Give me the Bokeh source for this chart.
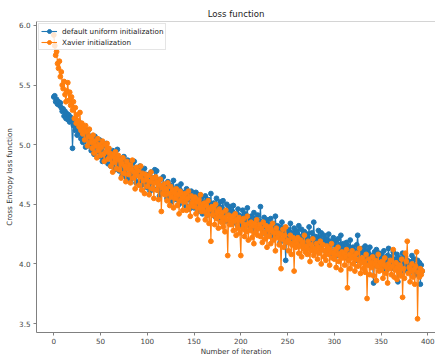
from bokeh.plotting import figure
from bokeh.models import Range1d, Legend, LegendItem, Span, NumeralTickFormatter, FixedTicker
from bokeh.embed import file_html
from bokeh.resources import INLINE

# ---- data ----
default_uniform = [
    5.40, 5.41, 5.36, 5.38, 5.34, 5.36, 5.33, 5.35, 5.31, 5.28,
    5.30, 5.24, 5.28, 5.22, 5.26, 5.21, 5.25, 5.19, 5.23, 5.20,
    4.97, 5.16, 5.21, 5.12, 5.18, 5.08, 5.14, 5.19, 5.10, 5.05,
    5.11, 5.02, 5.13, 5.06, 4.98, 5.09, 5.04, 5.12, 4.99, 5.07,
    4.95, 5.05, 5.00, 4.92, 5.07, 4.98, 5.03, 4.94, 4.99, 5.04,
    4.90, 4.97, 4.86, 4.99, 4.93, 4.88, 5.01, 4.91, 4.84, 4.96,
    4.93, 4.82, 4.89, 4.95, 4.85, 4.79, 4.91, 4.87, 4.96, 4.83,
    4.78, 4.88, 4.84, 4.74, 4.86, 4.90, 4.79, 4.83, 4.72, 4.87,
    4.81, 4.75, 4.70, 4.84, 4.79, 4.73, 4.86, 4.77, 4.68, 4.80,
    4.76, 4.69, 4.82, 4.72, 4.66, 4.78, 4.73, 4.80, 4.67, 4.75,
    4.64, 4.74, 4.70, 4.61, 4.77, 4.68, 4.72, 4.63, 4.79, 4.69,
    4.78, 4.62, 4.68, 4.57, 4.71, 4.65, 4.60, 4.73, 4.66, 4.59,
    4.64, 4.55, 4.69, 4.61, 4.58, 4.66, 4.52, 4.63, 4.70, 4.57,
    4.61, 4.54, 4.65, 4.58, 4.50, 4.62, 4.67, 4.55, 4.60, 4.53,
    4.58, 4.49, 4.63, 4.54, 4.59, 4.46, 4.56, 4.61, 4.51, 4.57,
    4.47, 4.55, 4.60, 4.50, 4.44, 4.58, 4.53, 4.48, 4.56, 4.42,
    4.52, 4.45, 4.57, 4.48, 4.41, 4.54, 4.50, 4.44, 4.59, 4.46,
    4.43, 4.51, 4.40, 4.49, 4.55, 4.45, 4.38, 4.48, 4.52, 4.42,
    4.47, 4.53, 4.39, 4.44, 4.36, 4.50, 4.42, 4.46, 4.35, 4.48,
    4.37, 4.44, 4.49, 4.35, 4.42, 4.39, 4.33, 4.46, 4.41, 4.36,
    4.40, 4.32, 4.45, 4.38, 4.30, 4.42, 4.36, 4.47, 4.34, 4.39,
    4.31, 4.40, 4.36, 4.28, 4.43, 4.34, 4.38, 4.29, 4.41, 4.33,
    4.36, 4.48, 4.30, 4.34, 4.26, 4.39, 4.31, 4.35, 4.27, 4.37,
    4.33, 4.25, 4.38, 4.29, 4.34, 4.23, 4.31, 4.40, 4.28, 4.32,
    4.24, 4.31, 4.18, 4.28, 4.35, 4.26, 4.30, 4.22, 4.03, 4.25,
    4.29, 4.21, 4.27, 4.34, 4.23, 4.26, 4.19, 4.30, 4.24, 4.28,
    4.26, 4.18, 4.32, 4.23, 4.20, 4.29, 4.16, 4.24, 4.27, 4.21,
    4.17, 4.25, 4.22, 4.31, 4.19, 4.14, 4.26, 4.21, 4.35, 4.18,
    4.23, 4.15, 4.20, 4.28, 4.16, 4.22, 4.26, 4.12, 4.19, 4.24,
    4.18, 4.11, 4.21, 4.16, 4.25, 4.13, 4.19, 4.09, 4.17, 4.22,
    4.10, 4.19, 4.15, 4.07, 4.21, 4.12, 4.16, 4.24, 4.11, 4.14,
    4.17, 4.08, 4.13, 4.18, 4.05, 4.15, 4.10, 4.20, 4.09, 4.12,
    4.14, 4.06, 4.11, 4.03, 4.16, 4.24, 4.08, 4.12, 4.04, 4.10,
    4.13, 4.02, 4.09, 4.15, 4.06, 4.11, 4.00, 4.08, 4.14, 4.04,
    4.07, 3.99, 3.84, 4.10, 4.04, 4.12, 3.98, 4.06, 4.09, 4.02,
    4.08, 3.97, 4.05, 4.11, 4.00, 4.04, 3.95, 4.07, 4.13, 4.01,
    3.98, 4.06, 4.03, 4.10, 3.96, 4.04, 3.99, 4.08, 3.85, 4.02,
    4.05, 3.97, 4.02, 4.09, 3.94, 4.01, 4.06, 3.98, 4.03, 3.95,
    4.02, 3.93, 4.00, 4.07, 3.96, 3.99, 4.04, 3.91, 3.98, 4.03,
    3.96, 4.01, 3.83, 3.99, 3.94,
]

xavier = [
    5.92, 5.83, 5.75, 5.78, 5.68, 5.64, 5.70, 5.57, 5.61, 5.50,
    5.47, 5.53, 5.42, 5.36, 5.45, 5.52, 5.37, 5.44, 5.33, 5.40,
    5.29, 5.36, 5.22, 5.31, 5.18, 5.25, 5.20, 5.15, 5.27, 5.12,
    5.18, 5.09, 5.14, 5.04, 5.16, 5.11, 4.99, 5.07, 5.13, 5.02,
    5.06, 4.97, 5.08, 4.93, 5.03, 4.99, 4.89, 5.05, 4.95, 5.00,
    4.91, 4.98, 5.03, 4.92, 4.86, 5.00, 4.94, 5.01, 4.88, 4.97,
    4.93, 4.82, 4.90, 4.77, 4.92, 4.85, 4.94, 4.80, 4.88, 4.91,
    4.79, 4.87, 4.72, 4.84, 4.89, 4.76, 4.82, 4.69, 4.86, 4.80,
    4.75, 4.83, 4.68, 4.79, 4.87, 4.72, 4.77, 4.63, 4.81, 4.74,
    4.78, 4.66, 4.73, 4.82, 4.62, 4.76, 4.70, 4.59, 4.75, 4.71,
    4.65, 4.74, 4.58, 4.69, 4.77, 4.63, 4.72, 4.55, 4.68, 4.73,
    4.62, 4.69, 4.54, 4.66, 4.71, 4.44, 4.64, 4.59, 4.67, 4.58,
    4.63, 4.53, 4.68, 4.59, 4.49, 4.65, 4.56, 4.62, 4.47, 4.60,
    4.55, 4.63, 4.49, 4.58, 4.42, 4.61, 4.53, 4.59, 4.45, 4.56,
    4.52, 4.59, 4.45, 4.55, 4.61, 4.48, 4.40, 4.57, 4.51, 4.54,
    4.48, 4.56, 4.42, 4.52, 4.37, 4.54, 4.47, 4.58, 4.44, 4.50,
    4.44, 4.51, 4.37, 4.49, 4.41, 4.53, 4.34, 4.46, 4.19, 4.48,
    4.41, 4.47, 4.33, 4.50, 4.38, 4.44, 4.30, 4.46, 4.40, 4.35,
    4.43, 4.31, 4.39, 4.27, 4.45, 4.37, 4.07, 4.41, 4.33, 4.38,
    4.33, 4.40, 4.28, 4.36, 4.42, 4.24, 4.37, 4.30, 4.39, 4.26,
    4.07, 4.36, 4.29, 4.38, 4.23, 4.33, 4.27, 4.40, 4.20, 4.34,
    4.28, 4.35, 4.22, 4.32, 4.17, 4.34, 4.26, 4.37, 4.24, 4.30,
    4.33, 4.23, 4.30, 4.18, 4.35, 4.26, 4.21, 4.32, 4.14, 4.29,
    4.23, 4.31, 4.17, 4.28, 4.34, 4.20, 4.26, 4.11, 4.30, 4.22,
    4.26, 4.16, 4.25, 3.96, 4.21, 4.29, 4.14, 4.24, 4.31, 4.18,
    4.20, 4.11, 4.18, 4.24, 4.08, 4.16, 4.22, 3.94, 4.19, 4.14,
    4.17, 4.22, 4.09, 4.15, 4.20, 4.06, 4.18, 4.13, 4.24, 4.10,
    4.15, 4.08, 4.19, 4.12, 4.02, 4.16, 4.11, 4.21, 4.07, 4.13,
    4.10, 4.17, 4.04, 4.14, 4.09, 4.19, 4.00, 4.12, 4.16, 4.06,
    4.11, 4.03, 4.15, 4.08, 4.13, 3.99, 4.10, 4.17, 4.05, 4.09,
    4.04, 4.12, 3.97, 4.08, 4.14, 4.02, 4.07, 3.95, 4.10, 4.05,
    4.09, 3.99, 4.06, 4.12, 3.80, 4.03, 4.08, 3.96, 4.05, 4.11,
    4.00, 4.07, 3.94, 4.04, 4.09, 3.98, 4.03, 4.13, 3.92, 4.01,
    4.05, 3.96, 4.02, 3.93, 4.08, 3.71, 3.99, 4.04, 3.91, 4.01,
    3.97, 4.06, 3.90, 4.00, 4.03, 3.86, 3.98, 4.08, 3.94, 4.01,
    3.95, 4.02, 3.88, 3.99, 4.05, 3.92, 3.97, 3.84, 4.00, 3.96,
    4.03, 3.91, 3.98, 4.12, 3.89, 3.95, 4.01, 3.87, 3.97, 3.93,
    3.99, 3.90, 4.04, 3.72, 3.96, 3.88, 4.09, 4.02, 4.19, 3.92,
    3.97, 3.85, 3.94, 4.00, 3.89, 3.95, 3.83, 3.98, 4.10, 3.54,
    3.93, 3.89, 3.96, 3.91, 3.94,
]

iterations = list(range(len(default_uniform)))
x_ticks = [0, 50, 100, 150, 200, 250, 300, 350, 400]
y_ticks = [3.5, 4.0, 4.5, 5.0, 5.5, 6.0]

BLUE = "#1f77b4"
ORANGE = "#ff7f0e"
FONT = "DejaVu Sans"

p = figure(width=435, height=358, output_backend="svg", toolbar_location=None,
           x_range=Range1d(-18.5, 408.2), y_range=Range1d(3.425, 6.033),
           min_border_left=36, min_border_right=0, min_border_top=21, min_border_bottom=24)

p.outline_line_color = None
p.xgrid.grid_line_color = None
p.ygrid.grid_line_color = None
p.background_fill_color = "white"
p.border_fill_color = "white"

# title
p.title.text = "Loss function"
p.title.align = "center"
p.title.text_font = FONT
p.title.text_font_size = "8.6px"
p.title.text_font_style = "normal"
p.title.text_color = "#222222"
p.title.standoff = 6

# axes
for ax in (p.xaxis[0], p.yaxis[0]):
    ax.axis_line_color = "#808080"
    ax.axis_line_width = 1
    ax.major_tick_line_color = "#808080"
    ax.major_tick_out = 3
    ax.major_tick_in = 0
    ax.minor_tick_out = 0
    ax.minor_tick_in = 0
    ax.major_label_text_font = FONT
    ax.major_label_text_font_size = "7.2px"
    ax.major_label_text_color = "#444444"
    ax.axis_label_text_font = FONT
    ax.axis_label_text_font_size = "7.2px"
    ax.axis_label_text_font_style = "normal"
    ax.axis_label_text_color = "#333333"

p.xaxis.major_label_standoff = 2
p.xaxis.axis_label_standoff = 0
p.yaxis.major_label_standoff = 3
p.yaxis.axis_label_standoff = 2

p.xaxis.ticker = FixedTicker(ticks=x_ticks)
p.yaxis.ticker = FixedTicker(ticks=y_ticks)
p.yaxis.formatter = NumeralTickFormatter(format="0.0")
p.xaxis.axis_label = "Number of iteration"
p.yaxis.axis_label = "Cross Entropy loss function"

# top spine
p.add_layout(Span(location=p.y_range.end, dimension="width", line_color="#aaaaaa", line_width=1))

# series
l1 = p.line(iterations, default_uniform, line_color=BLUE, line_width=1.1)
s1 = p.scatter(iterations, default_uniform, size=4.8, fill_color=BLUE, line_color=BLUE)
l2 = p.line(iterations, xavier, line_color=ORANGE, line_width=1.1)
s2 = p.scatter(iterations, xavier, size=4.8, fill_color=ORANGE, line_color=ORANGE)

legend = Legend(items=[
    LegendItem(label="default uniform initialization", renderers=[l1, s1]),
    LegendItem(label="Xavier initialization", renderers=[l2, s2]),
], location="top_left")
legend.margin = 2
legend.padding = 2
legend.spacing = 1
legend.glyph_width = 16
legend.glyph_height = 10
legend.label_height = 10
legend.label_standoff = 5
legend.label_text_font = FONT
legend.label_text_font_size = "7.2px"
legend.label_text_color = "#222222"
legend.border_line_color = "#cccccc"
legend.border_line_width = 1
legend.background_fill_alpha = 0.8
p.add_layout(legend)

open("out.html", "w").write(file_html(p, INLINE))
